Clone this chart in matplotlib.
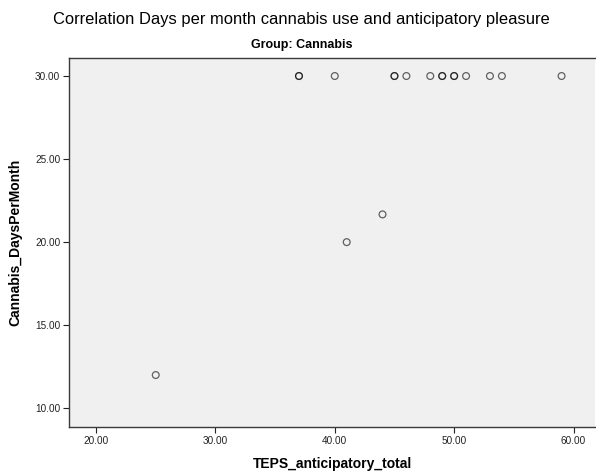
import matplotlib
matplotlib.use('Agg')
import matplotlib.pyplot as plt

# TEPS anticipatory total vs cannabis days per month (Group: Cannabis)
teps_anticipatory = [25, 41, 44, 37, 37, 40, 45, 45, 46, 48, 49, 49, 50, 50, 51, 53, 54, 59]
cannabis_days = [12, 20, 21.67, 30, 30, 30, 30, 30, 30, 30, 30, 30, 30, 30, 30, 30, 30, 30]

x_ticks = [20, 30, 40, 50, 60]
y_ticks = [10, 15, 20, 25, 30]

plt.rcParams['font.family'] = ['Liberation Sans', 'DejaVu Sans']

fig = plt.figure(figsize=(5.96, 4.73), dpi=100)
ax = fig.add_axes([0.1163, 0.0979, 0.882, 0.780])
ax.set_facecolor('#f0f0f0')

ax.scatter(teps_anticipatory, cannabis_days, s=24, facecolors='none',
           edgecolors='black', linewidths=0.9, alpha=0.6, zorder=3)

ax.set_xlim(17.76, 61.8)
ax.set_ylim(8.89, 31.1)
ax.set_xticks(x_ticks)
ax.set_yticks(y_ticks)
ax.set_xticklabels(['%.2f' % v for v in x_ticks])
ax.set_yticklabels(['%.2f' % v for v in y_ticks])
ax.tick_params(direction='out', length=4.5, width=0.8, colors='#222222',
               labelsize=7.2, pad=2)

for side in ['left', 'bottom', 'top']:
    ax.spines[side].set_color('#3a3a3a')
    ax.spines[side].set_linewidth(1.0)
ax.spines['right'].set_visible(False)

ax.set_xlabel('TEPS_anticipatory_total', fontsize=10, fontweight='bold', labelpad=8)
ax.set_ylabel('Cannabis_DaysPerMonth', fontsize=10, fontweight='bold', labelpad=9)

# subtitle sits centred on the figure, not on the plot area
fig.text(0.507, 0.904, 'Group: Cannabis', ha='center', va='center',
         fontsize=9, fontweight='bold',
         family=['Liberation Sans Narrow', 'Liberation Sans'])
fig.text(0.506, 0.958, 'Correlation Days per month cannabis use and anticipatory pleasure',
         ha='center', va='center', fontsize=11.9)

fig.savefig('out.png', dpi=100)
